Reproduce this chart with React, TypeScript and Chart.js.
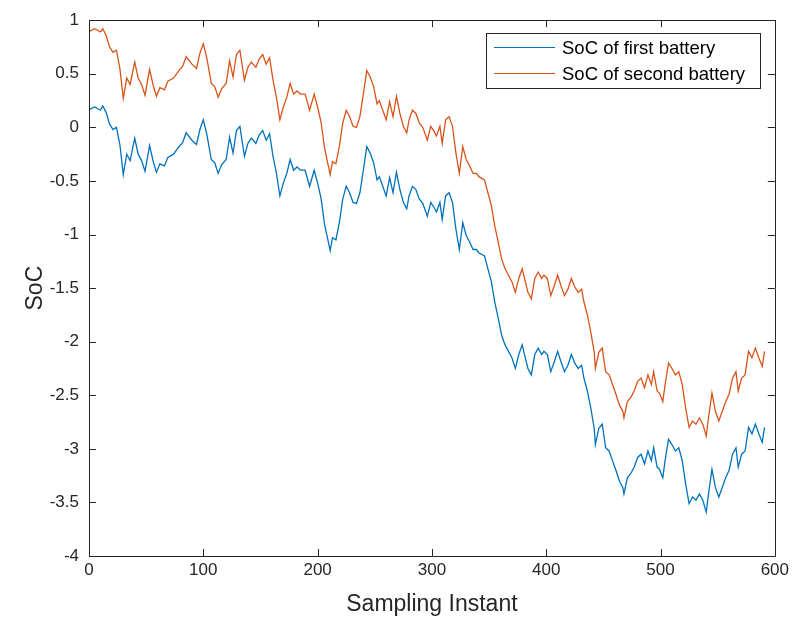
import React, { useEffect, useRef } from "react";
import { Chart, registerables } from "chart.js";

Chart.register(...registerables);

const samplingInstants = [
  0, 1, 5, 10, 12, 15, 18, 21, 24, 27, 30, 33, 36, 40, 43, 46, 49, 53, 56, 59, 62, 66, 69, 74, 78, 82, 85, 90, 94, 97,
  100, 103, 107, 110, 113, 116, 120, 123, 126, 129, 132, 136, 139, 142, 146, 149, 152, 155, 158, 161, 164, 167, 170, 173, 176, 179, 182, 185, 189, 193, 197,
  200, 203, 206, 209, 211, 213, 216, 219, 222, 225, 228, 231, 234, 237, 240, 243, 246, 249, 252, 254, 257, 260, 263, 266, 269, 272, 275, 278, 280, 283, 286, 289, 292, 296, 299,
  302, 304, 307, 309, 312, 315, 318, 321, 324, 327, 330, 333, 336, 339, 341, 346, 349, 352, 355, 358, 361, 364, 367, 370, 373, 376, 379, 381, 384, 387, 390, 393, 396, 398,
  401, 404, 407, 410, 413, 416, 419, 422, 425, 428, 431, 433, 436, 439, 442, 443, 446, 449, 452, 455, 458, 461, 464, 467, 468, 471, 474, 477, 480, 483, 486, 489, 492, 494, 497, 499,
  502, 504, 507, 510, 513, 516, 519, 522, 525, 528, 531, 534, 537, 540, 542, 545, 548, 551, 554, 557, 560, 563, 566, 568, 571, 574, 577, 580, 583, 586, 589, 591,
];

const socFirstBattery = [
  0.16, 0.17, 0.19, 0.16, 0.2, 0.14, 0.03, -0.02, 0.0, -0.16, -0.44, -0.25, -0.31, -0.1, -0.25, -0.31, -0.41, -0.17, -0.31, -0.42, -0.34, -0.36, -0.28, -0.25, -0.19, -0.14, -0.05, -0.12, -0.16, -0.02,
  0.07, -0.06, -0.3, -0.33, -0.43, -0.35, -0.3, -0.09, -0.24, -0.03, 0.01, -0.27, -0.15, -0.1, -0.15, -0.07, -0.03, -0.12, -0.06, -0.27, -0.43, -0.64, -0.52, -0.43, -0.3, -0.4, -0.37, -0.4, -0.4, -0.55, -0.4,
  -0.52, -0.66, -0.9, -1.05, -1.15, -1.03, -1.05, -0.89, -0.67, -0.55, -0.61, -0.7, -0.71, -0.61, -0.4, -0.18, -0.24, -0.33, -0.49, -0.46, -0.55, -0.64, -0.47, -0.61, -0.42, -0.58, -0.7, -0.76, -0.64, -0.55, -0.58, -0.67, -0.71, -0.83, -0.7,
  -0.75, -0.79, -0.7, -0.86, -0.64, -0.61, -0.7, -0.95, -1.14, -0.89, -1.01, -1.07, -1.14, -1.14, -1.17, -1.2, -1.32, -1.44, -1.63, -1.78, -1.94, -2.03, -2.09, -2.15, -2.25, -2.12, -2.03, -2.12, -2.25, -2.31, -2.12, -2.06, -2.12, -2.09,
  -2.12, -2.28, -2.19, -2.09, -2.19, -2.28, -2.22, -2.12, -2.2, -2.25, -2.22, -2.34, -2.46, -2.62, -2.81, -2.96, -2.81, -2.77, -2.99, -3.02, -3.11, -3.2, -3.3, -3.36, -3.42, -3.27, -3.23, -3.17, -3.08, -3.05, -3.14, -3.02, -3.11, -2.99, -3.17, -3.19,
  -3.27, -3.11, -2.91, -2.96, -3.02, -2.99, -3.11, -3.33, -3.51, -3.45, -3.48, -3.42, -3.48, -3.59, -3.42, -3.19, -3.36, -3.45, -3.36, -3.27, -3.2, -3.05, -2.99, -3.17, -3.05, -3.02, -2.8, -2.86, -2.77, -2.86, -2.94, -2.8,
];

const socSecondBattery = [
  0.89, 0.9, 0.92, 0.89, 0.92, 0.86, 0.75, 0.7, 0.72, 0.55, 0.27, 0.46, 0.4, 0.61, 0.46, 0.4, 0.3, 0.54, 0.4, 0.29, 0.37, 0.35, 0.43, 0.46, 0.52, 0.57, 0.66, 0.59, 0.55, 0.69,
  0.78, 0.65, 0.41, 0.38, 0.28, 0.36, 0.41, 0.62, 0.47, 0.68, 0.72, 0.44, 0.56, 0.61, 0.56, 0.64, 0.68, 0.59, 0.65, 0.44, 0.28, 0.07, 0.19, 0.28, 0.41, 0.31, 0.34, 0.31, 0.31, 0.16, 0.31,
  0.19, 0.05, -0.19, -0.34, -0.44, -0.32, -0.34, -0.18, 0.04, 0.16, 0.1, 0.01, 0.0, 0.1, 0.31, 0.53, 0.47, 0.38, 0.22, 0.25, 0.16, 0.07, 0.24, 0.1, 0.29, 0.13, 0.01, -0.05, 0.07, 0.16, 0.13, 0.04, 0.0, -0.12, 0.01,
  -0.04, -0.08, 0.01, -0.15, 0.07, 0.1, 0.01, -0.24, -0.43, -0.18, -0.3, -0.36, -0.43, -0.43, -0.46, -0.49, -0.61, -0.73, -0.92, -1.07, -1.23, -1.32, -1.38, -1.44, -1.54, -1.41, -1.32, -1.41, -1.54, -1.6, -1.41, -1.35, -1.41, -1.38,
  -1.41, -1.57, -1.48, -1.38, -1.48, -1.57, -1.51, -1.41, -1.49, -1.54, -1.51, -1.63, -1.75, -1.91, -2.1, -2.25, -2.1, -2.06, -2.28, -2.31, -2.4, -2.49, -2.59, -2.65, -2.71, -2.56, -2.52, -2.46, -2.37, -2.34, -2.43, -2.31, -2.4, -2.28, -2.46, -2.48,
  -2.56, -2.4, -2.2, -2.25, -2.31, -2.28, -2.4, -2.62, -2.8, -2.74, -2.77, -2.71, -2.77, -2.88, -2.71, -2.48, -2.65, -2.74, -2.65, -2.56, -2.49, -2.34, -2.28, -2.46, -2.34, -2.31, -2.09, -2.15, -2.06, -2.15, -2.23, -2.09,
];

const seriesLabels = ["SoC of first battery", "SoC of second battery"];
const seriesColors = ["#0072BD", "#D95319"];
const xTickValues = [0, 100, 200, 300, 400, 500, 600];
const yTickValues = [-4, -3.5, -3, -2.5, -2, -1.5, -1, -0.5, 0, 0.5, 1];
const xAxisTitle = "Sampling Instant";
const yAxisTitle = "SoC";

const AXIS_COLOR = "#262626";
const FONT = "'Liberation Sans', Arial, Helvetica, sans-serif";

const boxPlugin = {
  id: "matlabBox",
  afterDraw(chart: any) {
    const { ctx, chartArea } = chart;
    const { left, right, top, bottom } = chartArea;
    const xs = chart.scales.x;
    const ys = chart.scales.y;
    const tl = 7;
    ctx.save();
    ctx.strokeStyle = AXIS_COLOR;
    ctx.lineWidth = 1;
    ctx.beginPath();
    ctx.rect(Math.round(left) + 0.5, Math.round(top) + 0.5, Math.round(right - left), Math.round(bottom - top));
    ctx.stroke();
    ctx.beginPath();
    xTickValues.forEach((v) => {
      const px = Math.round(xs.getPixelForValue(v)) + 0.5;
      ctx.moveTo(px, bottom);
      ctx.lineTo(px, bottom - tl);
      ctx.moveTo(px, top);
      ctx.lineTo(px, top + tl);
    });
    yTickValues.forEach((v) => {
      const py = Math.round(ys.getPixelForValue(v)) + 0.5;
      ctx.moveTo(left, py);
      ctx.lineTo(left + tl, py);
      ctx.moveTo(right, py);
      ctx.lineTo(right - tl, py);
    });
    ctx.stroke();

    // legend box
    const bx = 486.5, by = 33.5, bw = 274, bh = 55;
    ctx.fillStyle = "#ffffff";
    ctx.fillRect(bx, by, bw, bh);
    ctx.strokeStyle = AXIS_COLOR;
    ctx.strokeRect(bx, by, bw, bh);
    ctx.font = "18.5px " + FONT;
    ctx.textBaseline = "middle";
    ctx.textAlign = "left";
    chart.data.datasets.forEach((ds: any, i: number) => {
      const ly = 47.5 + i * 26;
      ctx.strokeStyle = ds.borderColor;
      ctx.lineWidth = 1;
      ctx.beginPath();
      ctx.moveTo(494, ly);
      ctx.lineTo(555, ly);
      ctx.stroke();
      ctx.fillStyle = "#000000";
      ctx.fillText(ds.label, 562, ly + 1);
    });
    ctx.restore();
  },
};

export default function App() {
  const ref = useRef<HTMLCanvasElement | null>(null);
  useEffect(() => {
    document.body.style.margin = "0";
    const canvas = ref.current;
    if (!canvas) return;
    const toPoints = (ys: number[]) => samplingInstants.map((x, i) => ({ x, y: ys[i] }));
    const chart = new Chart(canvas, {
      type: "line",
      data: {
        datasets: [
          {
            label: seriesLabels[0],
            data: toPoints(socFirstBattery),
            borderColor: seriesColors[0],
            backgroundColor: seriesColors[0],
            borderWidth: 1.3,
            pointRadius: 0,
            tension: 0,
          },
          {
            label: seriesLabels[1],
            data: toPoints(socSecondBattery),
            borderColor: seriesColors[1],
            backgroundColor: seriesColors[1],
            borderWidth: 1.3,
            pointRadius: 0,
            tension: 0,
          },
        ],
      },
      options: {
        animation: false,
        responsive: false,
        maintainAspectRatio: false,
        devicePixelRatio: 1,
        layout: { padding: { top: 16, right: 17, left: 0, bottom: 0 } },
        plugins: {
          legend: { display: false },
          tooltip: { enabled: false },
        },
        scales: {
          x: {
            type: "linear",
            min: 0,
            max: 600,
            afterBuildTicks: (scale: any) => {
              scale.ticks = xTickValues.map((v) => ({ value: v }));
            },
            afterFit: (scale: any) => {
              scale.height = 70;
            },
            grid: { display: false, drawTicks: false, tickLength: 0 },
            border: { display: false },
            ticks: {
              padding: 4,
              color: AXIS_COLOR,
              font: { family: FONT, size: 17 },
              maxRotation: 0,
              autoSkip: false,
              callback: (v: any) => String(v),
            },
            title: {
              display: true,
              text: xAxisTitle,
              color: AXIS_COLOR,
              font: { family: FONT, size: 23 },
              padding: { top: 0, bottom: 8 },
            },
          },
          y: {
            type: "linear",
            min: -4,
            max: 1,
            afterBuildTicks: (scale: any) => {
              scale.ticks = yTickValues.map((v) => ({ value: v }));
            },
            afterFit: (scale: any) => {
              scale.width = 89;
            },
            grid: { display: false, drawTicks: false, tickLength: 0 },
            border: { display: false },
            ticks: {
              padding: 10,
              color: AXIS_COLOR,
              font: { family: FONT, size: 17 },
              autoSkip: false,
              callback: (v: any) => String(Math.round(Number(v) * 10) / 10),
            },
            title: {
              display: true,
              text: yAxisTitle,
              color: AXIS_COLOR,
              font: { family: FONT, size: 23 },
              padding: { top: 22, bottom: 0 },
            },
          },
        },
      },
      plugins: [boxPlugin],
    });
    return () => chart.destroy();
  }, []);
  return (
    <div style={{ position: "fixed", left: 0, top: 0, width: 793, height: 626, background: "#ffffff" }}>
      <canvas ref={ref} width={793} height={626} style={{ width: 793, height: 626 }} />
    </div>
  );
}
